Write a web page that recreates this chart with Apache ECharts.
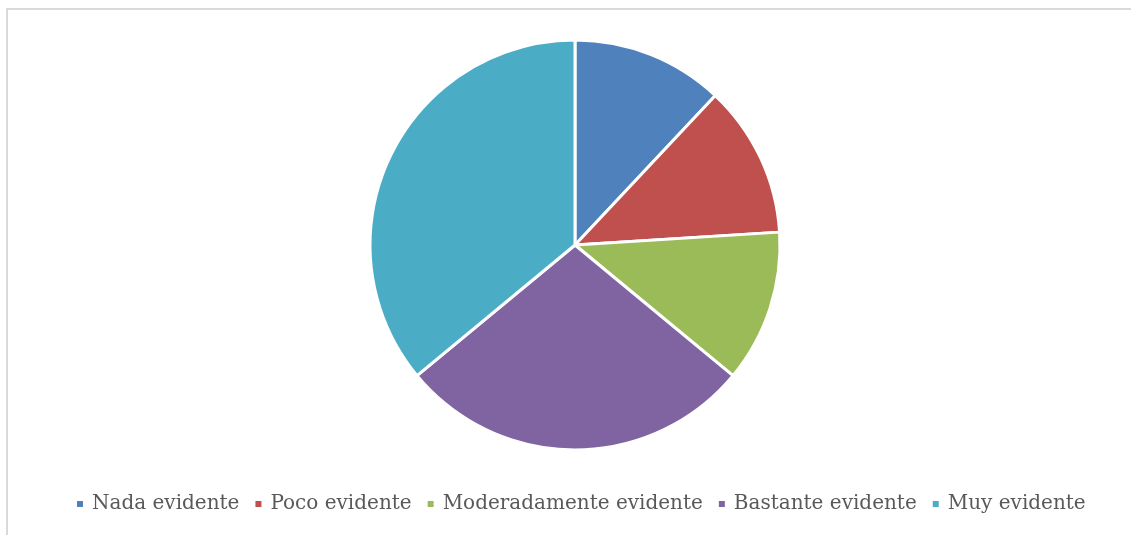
<!DOCTYPE html>
<html><head><meta charset="utf-8">
<script src="https://cdn.jsdelivr.net/npm/echarts@6/dist/echarts.min.js"></script>
<style>
html,body{margin:0;padding:0;background:#fff;}
#frame{position:absolute;left:6px;top:8px;width:1200px;height:600px;border-top:2px solid #d9d9d9;border-left:2px solid #d9d9d9;box-sizing:border-box;}
#chart{position:absolute;left:0;top:0;width:1131px;height:535px;}
</style></head>
<body>
<div id="frame"></div>
<div id="chart"></div>
<script>
const categories = ['Nada evidente','Poco evidente','Moderadamente evidente','Bastante evidente','Muy evidente'];
const values = [12,12,12,28,36];
const colors = ['#4F81BD','#C0504D','#9BBB59','#8064A2','#4BACC6'];

const chart = echarts.init(document.getElementById('chart'), null, {renderer:'canvas'});
chart.setOption({
  animation:false,
  color: colors,
  legend:{
    bottom: 16,
    left: 70,
    icon:'rect',
    itemWidth:8, itemHeight:8,
    itemGap:14,
    data: categories,
    textStyle:{fontFamily:'DejaVu Serif', fontSize:20, color:'#595959', padding:[0,0,0,3]}
  },
  series:[{
    type:'pie',
    center:[575,245],
    radius:[0,205],
    startAngle:90,
    clockwise:true,
    label:{show:false},
    labelLine:{show:false},
    itemStyle:{borderColor:'#fff', borderWidth:3},
    data: categories.map((c,i)=>({name:c, value:values[i]}))
  }]
});
</script>
</body></html>
